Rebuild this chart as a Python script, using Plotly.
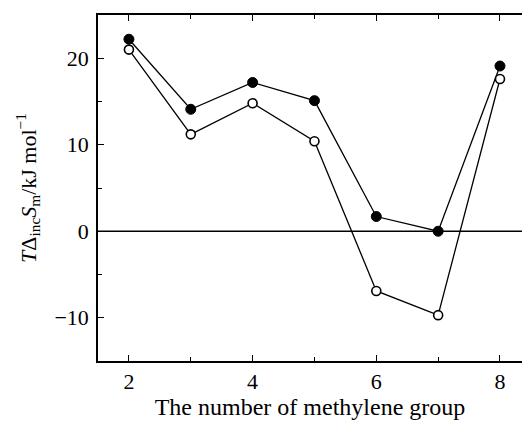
import plotly.graph_objects as go

# Number of methylene groups
n_ch2 = [2, 3, 4, 5, 6, 7, 8]
# T·ΔincSm values, kJ/mol
filled_vals = [22.2, 14.1, 17.2, 15.1, 1.7, 0.0, 19.1]
open_vals = [21.0, 11.2, 14.8, 10.4, -6.9, -9.7, 17.6]

x_ticks = [2, 4, 6, 8]
y_ticks = [-10, 0, 10, 20]

fig = go.Figure()

fig.add_trace(go.Scatter(
    x=n_ch2, y=filled_vals, mode="lines+markers",
    line=dict(color="black", width=1.3),
    marker=dict(symbol="circle", size=10, color="black",
                line=dict(color="black", width=1)),
    showlegend=False,
))
fig.add_trace(go.Scatter(
    x=n_ch2, y=open_vals, mode="lines+markers",
    line=dict(color="black", width=1.3),
    marker=dict(symbol="circle", size=9, color="white",
                line=dict(color="black", width=1.6)),
    showlegend=False,
))

# horizontal reference line at zero
fig.add_shape(type="line", xref="paper", x0=0, x1=1, yref="y", y0=0, y1=0,
              line=dict(color="black", width=1.5), layer="below")

font_family = "Liberation Serif"

fig.update_layout(
    width=522, height=421,
    margin=dict(l=98, r=0, t=15, b=60),
    paper_bgcolor="white", plot_bgcolor="white",
    font=dict(family=font_family, color="black", size=22),
    xaxis=dict(
        range=[1.5, 8.356], tickvals=x_ticks, ticks="inside", ticklen=6,
        tickwidth=1.2, tickcolor="black", showline=True, linecolor="black",
        linewidth=1.5, mirror="ticks", showgrid=False, zeroline=False,
        minor=dict(tickvals=[3, 5, 7], ticks="inside", ticklen=4,
                   tickwidth=1, tickcolor="black"),
        tickfont=dict(family=font_family, size=22), ticklabelstandoff=0,
        title=dict(text="The number of methylene group",
                   font=dict(family=font_family, size=24), standoff=2),
    ),
    yaxis=dict(
        range=[-15, 25], tickvals=y_ticks,
        ticktext=["\u221210", "0", "10", "20"],
        ticks="inside", ticklen=6, tickwidth=1.2, tickcolor="black",
        showline=True, linecolor="black", linewidth=1.5, mirror=False,
        showgrid=False, zeroline=False,
        minor=dict(tickvals=[-5, 5, 15], ticks="inside", ticklen=4,
                   tickwidth=1, tickcolor="black"),
        tickfont=dict(family=font_family, size=22), ticklabelstandoff=3,
        title=dict(text="<i>T</i>\u0394<sub>inc</sub><i>S</i><sub>m</sub>/kJ mol<sup>\u22121</sup>",
                   font=dict(family=font_family, size=22), standoff=12),
    ),
)

fig.write_html("out.html")
